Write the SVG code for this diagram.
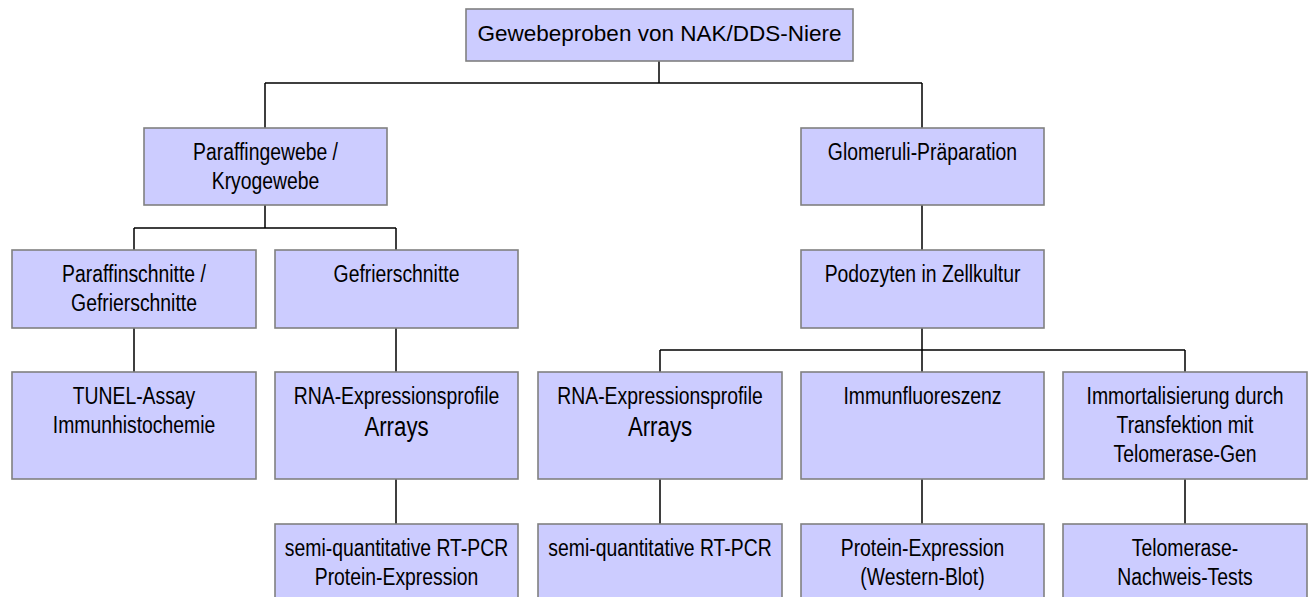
<svg xmlns="http://www.w3.org/2000/svg" width="1309" height="597" viewBox="0 0 1309 597">
<style>
.box{fill:#ccccff;stroke:#808080;stroke-width:1.6}
.lnk{fill:none;stroke:#000;stroke-width:1.5}
text{font-family:"Liberation Sans",Arial,sans-serif;font-size:23.5px;fill:#000;text-anchor:middle}
.big{font-size:27px}
.top{font-size:22.5px}
</style>
<rect width="1309" height="597" fill="#fff"/>
<g id="connectors">
<path class="lnk" d="M659,61V83M265,83H922M265,83V128M922,83V128"/>
<path class="lnk" d="M265,205V228M134,228H396M134,228V250M396,228V250"/>
<path class="lnk" d="M922,205V250"/>
<path class="lnk" d="M134,328V372M396,328V372"/>
<path class="lnk" d="M922,328V350M660,350H1185M660,350V372M922,350V372M1185,350V372"/>
<path class="lnk" d="M396,479V524M660,479V524M922,479V524M1185,479V524"/>
</g>
<g id="n-root"><rect class="box" x="466" y="9" width="387" height="52"/><text class="top" x="659.5" y="41">Gewebeproben von NAK/DDS-Niere</text></g>
<g id="n-paraffingewebe"><rect class="box" x="144" y="128" width="243" height="77"/><text transform="translate(265.5,160) scale(0.824,1)"><tspan x="0" y="0">Paraffingewebe /</tspan><tspan x="0" y="29">Kryogewebe</tspan></text></g>
<g id="n-glomeruli"><rect class="box" x="801" y="128" width="243" height="77"/><text transform="translate(922.5,160) scale(0.824,1)" x="0" y="0">Glomeruli-Präparation</text></g>
<g id="n-paraffinschnitte"><rect class="box" x="12" y="250" width="244" height="78"/><text transform="translate(134,282) scale(0.824,1)"><tspan x="0" y="0">Paraffinschnitte /</tspan><tspan x="0" y="29">Gefrierschnitte</tspan></text></g>
<g id="n-gefrierschnitte"><rect class="box" x="275" y="250" width="243" height="78"/><text transform="translate(396.5,282) scale(0.824,1)" x="0" y="0">Gefrierschnitte</text></g>
<g id="n-podozyten"><rect class="box" x="801" y="250" width="243" height="78"/><text transform="translate(922.5,282) scale(0.824,1)" x="0" y="0">Podozyten in Zellkultur</text></g>
<g id="n-tunel"><rect class="box" x="12" y="372" width="244" height="107"/><text transform="translate(134,404) scale(0.824,1)"><tspan x="0" y="0">TUNEL-Assay</tspan><tspan x="0" y="29">Immunhistochemie</tspan></text></g>
<g id="n-rna1"><rect class="box" x="275" y="372" width="243" height="107"/><text transform="translate(396.5,404) scale(0.824,1)"><tspan x="0" y="0">RNA-Expressionsprofile</tspan><tspan class="big" x="0" y="32">Arrays</tspan></text></g>
<g id="n-rna2"><rect class="box" x="538" y="372" width="244" height="107"/><text transform="translate(660,404) scale(0.824,1)"><tspan x="0" y="0">RNA-Expressionsprofile</tspan><tspan class="big" x="0" y="32">Arrays</tspan></text></g>
<g id="n-immun"><rect class="box" x="801" y="372" width="243" height="107"/><text transform="translate(922.5,404) scale(0.824,1)" x="0" y="0">Immunfluoreszenz</text></g>
<g id="n-immort"><rect class="box" x="1063" y="372" width="244" height="107"/><text transform="translate(1185,404) scale(0.824,1)"><tspan x="0" y="0">Immortalisierung durch</tspan><tspan x="0" y="29">Transfektion mit</tspan><tspan x="0" y="58">Telomerase-Gen</tspan></text></g>
<g id="n-semi1"><rect class="box" x="275" y="524" width="243" height="110"/><text transform="translate(396.5,556) scale(0.824,1)"><tspan x="0" y="0">semi-quantitative RT-PCR</tspan><tspan x="0" y="29">Protein-Expression</tspan></text></g>
<g id="n-semi2"><rect class="box" x="538" y="524" width="244" height="110"/><text transform="translate(660,556) scale(0.824,1)" x="0" y="0">semi-quantitative RT-PCR</text></g>
<g id="n-protein"><rect class="box" x="801" y="524" width="243" height="110"/><text transform="translate(922.5,556) scale(0.824,1)"><tspan x="0" y="0">Protein-Expression</tspan><tspan x="0" y="29">(Western-Blot)</tspan></text></g>
<g id="n-telomerase"><rect class="box" x="1063" y="524" width="244" height="110"/><text transform="translate(1185,556) scale(0.824,1)"><tspan x="0" y="0">Telomerase-</tspan><tspan x="0" y="29">Nachweis-Tests</tspan></text></g>
</svg>
